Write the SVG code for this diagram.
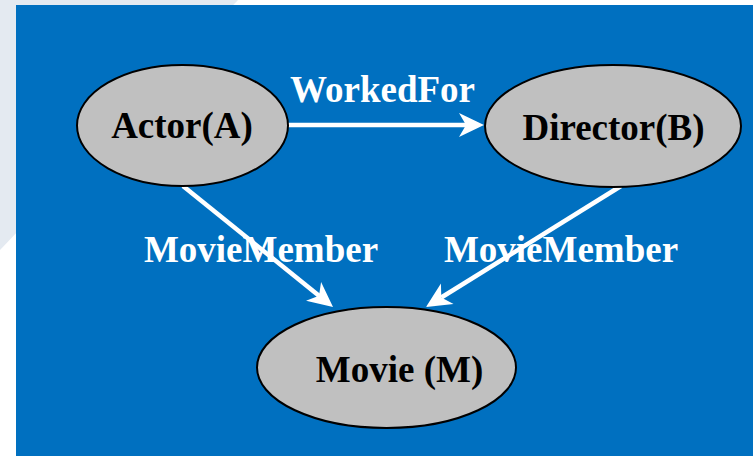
<svg xmlns="http://www.w3.org/2000/svg" width="753" height="456" viewBox="0 0 753 456">
<style>
.node ellipse{fill:#c0c0c0;stroke:#000;stroke-width:2}
.node text{font-family:"Liberation Serif","Times New Roman",serif;font-weight:bold;font-size:37px;fill:#000;text-anchor:middle}
.lbl{font-family:"Liberation Serif","Times New Roman",serif;font-weight:bold;font-size:37px;fill:#fff;text-anchor:middle}
.edge{stroke:#fff;stroke-width:4.5;fill:none;marker-end:url(#arr)}
</style>
<defs>
<marker id="arr" markerUnits="userSpaceOnUse" viewBox="-8 -13 27 26" markerWidth="27" markerHeight="26" refX="0" refY="0" orient="auto">
<path d="M18,0 L-7,-12 L0,0 L-7,12 Z" fill="#fff"/>
</marker>
</defs>
<rect width="753" height="456" fill="#fff"/>
<polygon points="0,0 238,0 0,250" fill="#e4eaf1"/>
<rect x="16" y="5" width="737" height="451" fill="#0070c0"/>
<g id="edges">
<line class="edge" x1="288" y1="125" x2="466" y2="125"/>
<line class="edge" x1="183" y1="186" x2="319" y2="295.7"/>
<line class="edge" x1="621" y1="186" x2="441.3" y2="297.5"/>
<text class="lbl" x="382.5" y="102">WorkedFor</text>
<text class="lbl" x="261" y="262">MovieMember</text>
<text class="lbl" x="561" y="262">MovieMember</text>
</g>
<g id="actor" class="node">
<ellipse cx="182.5" cy="125.5" rx="105.5" ry="60.5"/>
<text x="182" y="138">Actor(A)</text>
</g>
<g id="director" class="node">
<ellipse cx="613" cy="126" rx="128" ry="61"/>
<text x="613.5" y="140">Director(B)</text>
</g>
<g id="movie" class="node">
<ellipse cx="386.5" cy="367.5" rx="129.5" ry="60.5"/>
<text x="399.5" y="382">Movie (M)</text>
</g>
</svg>
